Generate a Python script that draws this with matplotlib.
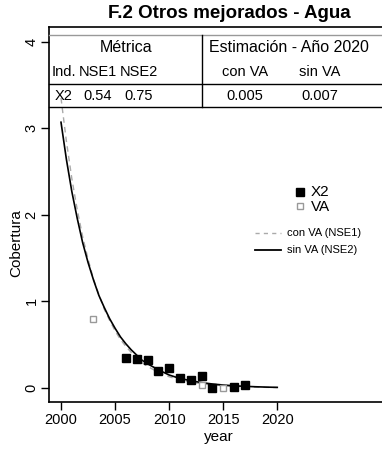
import numpy as np
import matplotlib.pyplot as plt
from matplotlib.lines import Line2D

plt.rcParams['font.family'] = ['Liberation Sans', 'DejaVu Sans']

# Datos observados
years_x2 = [2006, 2007, 2008, 2009, 2010, 2011, 2012, 2013, 2014, 2016, 2017]
vals_x2 = [0.35, 0.34, 0.32, 0.20, 0.23, 0.12, 0.09, 0.14, 0.00, 0.015, 0.03]
years_va = [2003, 2013, 2015]
vals_va = [0.80, 0.03, 0.00]

# Curvas ajustadas
years_fit = [2000, 2000.5, 2001, 2001.5, 2002, 2002.5, 2003, 2003.5, 2004, 2004.5,
             2005, 2005.5, 2006, 2006.5, 2007, 2007.5, 2008, 2009, 2010, 2011,
             2012, 2013, 2014, 2015, 2016, 2017, 2018, 2019, 2020]
con_va = [3.35, 2.85, 2.42, 2.06, 1.75, 1.49, 1.26, 1.08, 0.91, 0.78,
          0.66, 0.56, 0.48, 0.41, 0.34, 0.29, 0.25, 0.18, 0.13, 0.094,
          0.068, 0.049, 0.035, 0.026, 0.018, 0.013, 0.010, 0.007, 0.005]
sin_va = [3.07, 2.64, 2.27, 1.96, 1.68, 1.45, 1.25, 1.07, 0.93, 0.80,
          0.69, 0.59, 0.51, 0.44, 0.38, 0.32, 0.28, 0.21, 0.15, 0.11,
          0.084, 0.062, 0.046, 0.034, 0.025, 0.019, 0.014, 0.010, 0.007]

# Tabla
tab_header = ['Ind.', 'NSE1', 'NSE2', 'con VA', 'sin VA']
tab_row = ['X2', '0.54', '0.75', '0.005', '0.007']

W, H = 382, 450
fig = plt.figure(figsize=(W / 100, H / 100), dpi=100)


def px(x, y):
    return x / W, 1 - y / H


ax = fig.add_axes([49 / W, 1 - 402 / H, 358 / W, 375 / H])
ax.set_xlim(1998.89, 2032.0)
ax.set_ylim(-0.162, 4.17)
ax.spines['right'].set_visible(False)
for s in ['left', 'top', 'bottom']:
    ax.spines[s].set_linewidth(1.2)

ax.plot(years_fit, con_va, color='#aaaaaa', lw=1, dashes=(4, 3))
ax.plot(years_fit, sin_va, color='black', lw=1.2)
ax.plot(years_va, vals_va, 's', ms=5, mfc='white', mec='#999999', mew=1)
ax.plot(years_x2, vals_x2, 's', ms=5.5, color='black')

ax.set_xticks([2000, 2005, 2010, 2015, 2020])
ax.set_yticks([0, 1, 2, 3, 4])
ax.tick_params(axis='both', direction='out', length=6, width=1, labelsize=10.5)
ax.tick_params(axis='x', pad=2)
ax.tick_params(axis='y', pad=1.5)
for lab in ax.get_yticklabels():
    lab.set_rotation(90)
    lab.set_va('center')

fig.text(*px(219, 437), 'year', ha='center', va='center', fontsize=11)
fig.text(*px(16, 243), 'Cobertura', ha='center', va='center', rotation=90, fontsize=11)
fig.text(*px(229, 14), 'F.2 Otros mejorados - Agua', ha='center', va='center',
         fontsize=13.5, fontweight='bold')

# tabla dibujada
fig.add_artist(Line2D([49 / W, 1], [1 - 35 / H] * 2, color='#999999', lw=1))
fig.add_artist(Line2D([49 / W, 1], [1 - 84 / H] * 2, color='black', lw=1))
fig.add_artist(Line2D([49 / W, 1], [1 - 107 / H] * 2, color='black', lw=1))
fig.add_artist(Line2D([202 / W] * 2, [1 - 35 / H, 1 - 107 / H], color='black', lw=1))
fig.text(*px(126, 48), 'Métrica', ha='center', va='center', fontsize=11.5)
fig.text(*px(289, 48), 'Estimación - Año 2020', ha='center', va='center', fontsize=11.5)
col_x = [64, 98, 139, 245, 320]
for cx, h, r in zip(col_x, tab_header, tab_row):
    fig.text(*px(cx, 72), h, ha='center', va='center', fontsize=10.5)
    fig.text(*px(cx, 96), r, ha='center', va='center', fontsize=10.5)

# leyenda
fig.add_artist(Line2D([300 / W], [1 - 192 / H], marker='s', ms=5.5, color='black', lw=0))
fig.add_artist(Line2D([300 / W], [1 - 206 / H], marker='s', ms=5, mfc='white',
                      mec='#999999', mew=1, lw=0))
fig.text(*px(311, 192), 'X2', ha='left', va='center', fontsize=11)
fig.text(*px(311, 207), 'VA', ha='left', va='center', fontsize=11)
fig.add_artist(Line2D([255 / W, 281 / W], [1 - 233 / H] * 2, color='#aaaaaa', lw=1,
                      dashes=(3, 3)))
fig.add_artist(Line2D([255 / W, 281 / W], [1 - 250 / H] * 2, color='black', lw=1.3))
fig.text(*px(287, 233), 'con VA (NSE1)', ha='left', va='center', fontsize=8)
fig.text(*px(287, 250), 'sin VA (NSE2)', ha='left', va='center', fontsize=8)

fig.savefig('out.png', dpi=100)
